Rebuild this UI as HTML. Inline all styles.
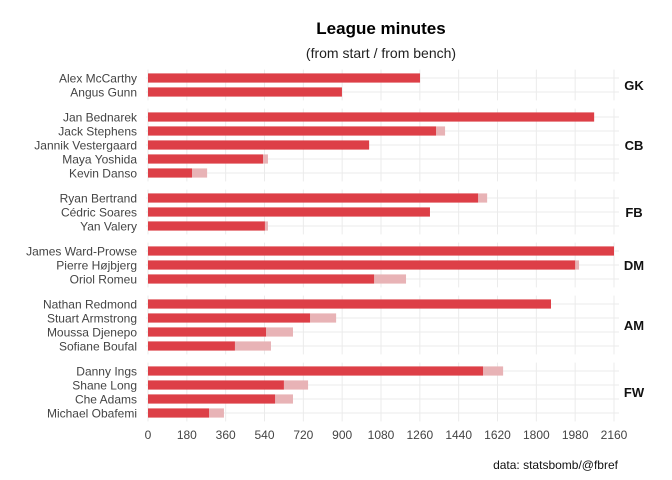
<!DOCTYPE html>
<html><head><meta charset="utf-8"><style>
body{margin:0;background:#fff;}
svg{display:block;font-family:"Liberation Sans",sans-serif;}
</style></head><body>
<svg id="chart" width="672" height="480">
<text x="381" y="34" text-anchor="middle" font-size="17" font-weight="bold" fill="#000">League minutes</text>
<text x="381" y="58" text-anchor="middle" font-size="14" fill="#222">(from start / from bench)</text>
<text x="618" y="469" text-anchor="end" font-size="12" fill="#111">data: statsbomb/@fbref</text>
<g id="plot"></g>
</svg>
<script>
const players=["Alex McCarthy","Angus Gunn","Jan Bednarek","Jack Stephens","Jannik Vestergaard","Maya Yoshida","Kevin Danso","Ryan Bertrand","Cédric Soares","Yan Valery","James Ward-Prowse","Pierre Højbjerg","Oriol Romeu","Nathan Redmond","Stuart Armstrong","Moussa Djenepo","Sofiane Boufal","Danny Ings","Shane Long","Che Adams","Michael Obafemi"];
const positions=["GK","GK","CB","CB","CB","CB","CB","FB","FB","FB","DM","DM","DM","AM","AM","AM","AM","FW","FW","FW","FW"];
const fromStart=[1261,899,2068,1335,1025,533,204,1530,1307,542,2160,1980,1048,1868,751,547,403,1553,630,589,283];
const fromBench=[0,0,0,42,0,23,70,42,0,14,0,18,148,0,121,125,167,93,112,83,69];
const ticks=[0,180,360,540,720,900,1080,1260,1440,1620,1800,1980,2160];
const groups=["GK","CB","FB","DM","AM","FW"];
const ns="http://www.w3.org/2000/svg";
const g=document.getElementById('plot');
const x0=148,x1=614,pl=146,pr=619;
const xs=v=>x0+(v/2160)*(x1-x0);
const step=14,gap=8.2,top0=69.6;
function mk(t,a){const e=document.createElementNS(ns,t);for(const k in a)e.setAttribute(k,a[k]);g.appendChild(e);return e;}
let y=top0;const rowY=[];
groups.forEach(grp=>{
  const idx=players.map((p,i)=>i).filter(i=>positions[i]===grp);
  const ptop=y,pbot=y+step*(idx.length-1)+step*1.2;
  let el=mk('rect',{x:pl,y:ptop,width:pr-pl,height:pbot-ptop,fill:'#fff'});
  
  
  ticks.forEach(t=>{const l=mk('line',{x1:xs(t),x2:xs(t),y1:ptop,y2:pbot,stroke:'#ebebeb','stroke-width':1});
    });
  idx.forEach((i,k)=>{
    const cy=ptop+step*0.6+k*step;rowY[i]=cy;
    const l=mk('line',{x1:pl,x2:pr,y1:cy,y2:cy,stroke:'#ebebeb','stroke-width':1});
    
  });
  const lab=mk('text',{x:634,y:(ptop+pbot)/2+5,'text-anchor':'middle','font-size':13,'font-weight':'bold',fill:'#111'});
  lab.textContent=grp;
  
  
  y=pbot+gap;
});
players.forEach((p,i)=>{
  const cy=rowY[i];
  const b=mk('rect',{x:xs(fromStart[i]),y:cy-4.6,width:xs(fromStart[i]+fromBench[i])-xs(fromStart[i]),height:9.2,fill:'#e8b3b6'});
  
  
  const s=mk('rect',{x:xs(0),y:cy-4.6,width:xs(fromStart[i])-xs(0),height:9.2,fill:'#dd3f47'});
  
  
  const t=mk('text',{x:137,y:cy+4.5,'text-anchor':'end','font-size':12,fill:'#444'});
  t.textContent=p;
  
  
});
ticks.forEach(v=>{
  const t=mk('text',{x:xs(v),y:439,'text-anchor':'middle','font-size':12,fill:'#444'});
  t.textContent=v;
  
  
});
</script>
</body></html>
